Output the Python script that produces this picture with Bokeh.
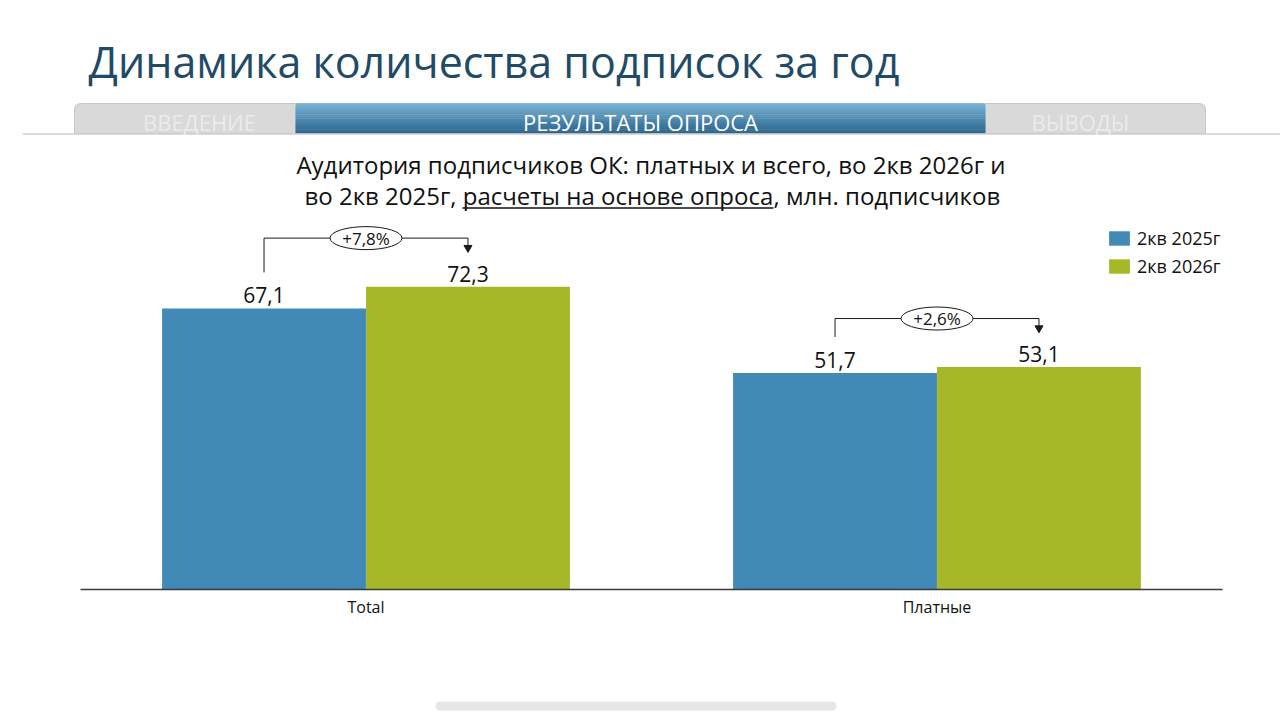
from bokeh.plotting import figure
from bokeh.models import Range1d, FactorRange, Legend, LegendItem, ColumnDataSource
from bokeh.transform import dodge
from bokeh.layouts import column
from bokeh.core.properties import value
from bokeh.embed import file_html
from bokeh.resources import INLINE

# ---------------- data ----------------
title_text = "Динамика количества подписок за год"
tab_labels = ["ВВЕДЕНИЕ", "РЕЗУЛЬТАТЫ ОПРОСА", "ВЫВОДЫ"]
subtitle_line1 = "Аудитория подписчиков ОК: платных и всего, во 2кв 2026г и"
subtitle_line2 = ["во 2кв 2025г,", "расчеты на основе опроса", ", млн. подписчиков"]
categories = ["Total", "Платные"]
series_names = ["2кв 2025г", "2кв 2026г"]
values_2025 = [67.1, 51.7]
values_2026 = [72.3, 53.1]
growth_labels = ["+7,8%", "+2,6%"]

# ---------------- style ----------------
FONT = "Open Sans"
BLUE = "#4189b6"
GREEN = "#a6b828"
TITLE_COLOR = "#1f4a68"
W = 1280
LEFT = 22          # common frame left edge for all stacked figures
HDR_H = 214
CH_H = 476
FT_H = 33
PX_PER_CAT = 571.0
FRAME_W = W - LEFT


def fmt(v):
    return f"{v:.1f}".replace(".", ",")


def hy_(sy):
    # header vertical position from a pixel row of the page
    return HDR_H - sy


# ---------------- header ----------------
hdr = figure(width=W, height=HDR_H, x_range=Range1d(LEFT, W), y_range=Range1d(0, HDR_H),
             output_backend="svg", toolbar_location=None, min_border=0,
             min_border_left=LEFT, min_border_right=0,
             outline_line_color=None, x_axis_location=None, y_axis_location=None)
hdr.grid.visible = False

hdr.text(x=[88], y=[hy_(61)], text=[title_text], text_font=value(FONT), text_font_size="43px",
         text_color=TITLE_COLOR, text_baseline="middle", text_align="left")

# grey tab strip
hdr.quad(left=[74], right=[1205], bottom=[hy_(133)], top=[hy_(103)], fill_color="#d9d9d9",
         line_color="#c8c8c8", line_width=1, border_radius=(6, 6, 0, 0))
# blue active tab as a vertical gradient
top_c = (118, 176, 211)
bot_c = (42, 101, 142)
n = 16
y0, y1 = hy_(133), hy_(103)
for i in range(n):
    t = i / (n - 1)
    c = tuple(int(round(bot_c[k] + (top_c[k] - bot_c[k]) * t)) for k in range(3))
    hb = y0 + (y1 - y0) * i / n
    ht = y0 + (y1 - y0) * (i + 1) / n
    hdr.quad(left=[295], right=[985], bottom=[hb], top=[ht + 0.3],
             fill_color="#%02x%02x%02x" % c, line_color=None,
             border_radius=(5, 5, 0, 0) if i == n - 1 else 0)
hdr.segment(x0=[LEFT], x1=[W], y0=[hy_(133.5)], y1=[hy_(133.5)], line_color="#cfcfcf", line_width=1.5)

hdr.text(x=[199, 640, 1080], y=[hy_(121)] * 3, text=tab_labels, text_font=value(FONT),
         text_font_size="22px", text_color=["#ebebeb", "#ffffff", "#ebebeb"],
         text_align="center", text_baseline="middle")

SUB_FS = "24px"
hdr.text(x=[650.5], y=[hy_(164)], text=[subtitle_line1], text_font=value(FONT), text_font_size=SUB_FS,
         text_color="#111111", text_align="center", text_baseline="middle")
hdr.text(x=[456], y=[hy_(195)], text=[subtitle_line2[0]], text_font=value(FONT), text_font_size=SUB_FS,
         text_color="#111111", text_align="right", text_baseline="middle")
hdr.text(x=[617.5], y=[hy_(195)], text=[subtitle_line2[1]], text_font=value(FONT), text_font_size=SUB_FS,
         text_color="#111111", text_align="center", text_baseline="middle")
hdr.text(x=[773], y=[hy_(195)], text=[subtitle_line2[2]], text_font=value(FONT), text_font_size=SUB_FS,
         text_color="#111111", text_align="left", text_baseline="middle")
hdr.segment(x0=[462], x1=[773], y0=[hy_(207.5)], y1=[hy_(207.5)], line_color="#111111", line_width=1.3)

# ---------------- chart ----------------
pad = (FRAME_W / PX_PER_CAT - len(categories)) / 2 / (len(categories) / 2)
ch = figure(width=W, height=CH_H,
            x_range=FactorRange(*categories, range_padding=pad),
            y_range=Range1d(-0.72, 89.54), output_backend="svg", toolbar_location=None,
            min_border_left=LEFT, min_border_right=0, min_border_top=0, min_border_bottom=98,
            outline_line_color=None, y_axis_location=None)
ch.grid.visible = False

hy = [max(a, b) + 11.6 for a, b in zip(values_2025, values_2026)]
src = ColumnDataSource(dict(
    cat=categories,
    v25=values_2025,
    v26=values_2026,
    l25=[fmt(v) for v in values_2025],
    l26=[fmt(v) for v in values_2026],
    growth=growth_labels,
    leg=[v + 8.6 for v in values_2025],
    hy=hy,
    tip=[v + 8.35 for v in values_2026],
    head=[v + 9.3 for v in values_2026],
))

OFF = 0.1786
BW = 0.357
r25 = ch.vbar(x=dodge("cat", -OFF, range=ch.x_range), top="v25", width=BW, source=src,
              fill_color=BLUE, line_color=None)
r26 = ch.vbar(x=dodge("cat", OFF, range=ch.x_range), top="v26", width=BW, source=src,
              fill_color=GREEN, line_color=None)

# baseline (axis line) spanning the category band
ch.segment(x0=[0], x1=[len(categories)], y0=[0], y1=[0], line_color="#3a3a3a", line_width=1.6)

for xo, col, vcol in ((-OFF, "l25", "v25"), (OFF, "l26", "v26")):
    ch.text(x=dodge("cat", xo, range=ch.x_range), y=vcol, text=col,
            source=src, text_font=value(FONT), text_font_size="21px", text_color="#111111",
            text_align="center", text_baseline="bottom", y_offset=-5)

LC = "#1a1a1a"
ch.segment(x0=dodge("cat", -OFF, range=ch.x_range), x1=dodge("cat", -OFF, range=ch.x_range),
           y0="leg", y1="hy", source=src, line_color=LC, line_width=1)
ch.segment(x0=dodge("cat", -OFF, range=ch.x_range), x1=dodge("cat", OFF, range=ch.x_range),
           y0="hy", y1="hy", source=src, line_color=LC, line_width=1)
ch.segment(x0=dodge("cat", OFF, range=ch.x_range), x1=dodge("cat", OFF, range=ch.x_range),
           y0="hy", y1="tip", source=src, line_color=LC, line_width=1)
ch.scatter(x=dodge("cat", OFF, range=ch.x_range), y="head", source=src, marker="inverted_triangle",
           size=8, fill_color=LC, line_color=LC)
ch.ellipse(x="cat", y="hy", width=72, height=23, width_units="screen", height_units="screen",
           source=src, fill_color="white", line_color=LC, line_width=1)
ch.text(x="cat", y="hy", text="growth", source=src, text_font=value(FONT), text_font_size="17px",
        text_color="#111111", text_align="center", text_baseline="middle")

legend = Legend(items=[LegendItem(label=series_names[0], renderers=[r25]),
                       LegendItem(label=series_names[1], renderers=[r26])],
                location="top_right", orientation="vertical",
                padding=0, margin=12, spacing=4, glyph_width=26, glyph_height=18, label_height=18,
                label_width=131, label_standoff=5, label_text_font=FONT, label_text_font_size="18px",
                label_text_color="#111111", border_line_color=None,
                background_fill_alpha=0)
ch.add_layout(legend)

ax = ch.xaxis[0]
ax.axis_line_color = None
ax.major_tick_line_color = None
ax.minor_tick_line_color = None
ax.major_tick_out = 0
ax.major_tick_in = 0
ax.major_label_standoff = 3
ax.major_label_text_font = FONT
ax.major_label_text_font_size = "16px"
ax.major_label_text_color = "#111111"

# ---------------- footer ----------------
ft = figure(width=W, height=FT_H, x_range=Range1d(LEFT, W), y_range=Range1d(0, FT_H),
            output_backend="svg", toolbar_location=None, min_border=0,
            min_border_left=LEFT, min_border_right=0,
            outline_line_color=None, x_axis_location=None, y_axis_location=None)
ft.grid.visible = False
ft.line(x=[439.5, 831.5], y=[17.5, 17.5], line_width=9, line_cap="round", line_color="#e6e6e6")

layout = column(hdr, ch, ft, spacing=0)
open("out.html", "w").write(file_html(layout, INLINE))
